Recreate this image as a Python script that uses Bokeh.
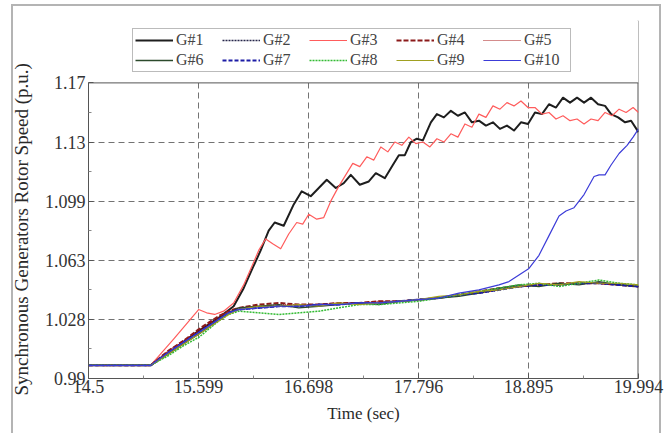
from bokeh.plotting import figure
from bokeh.models import Legend, LegendItem, FixedTicker, Range1d, BoxAnnotation, Span, Title
from bokeh.embed import file_html
from bokeh.resources import INLINE

# ---------------- data ----------------
x_ticks = [14.5, 15.599, 16.698, 17.796, 18.895, 19.994]
x_labels = ["14.5", "15.599", "16.698", "17.796", "18.895", "19.994"]
x_minor = [15.05, 16.148, 17.247, 18.346, 19.444]
y_ticks = [0.99, 1.026, 1.062, 1.098, 1.134, 1.17]
y_labels = ["0.99", "1.028", "1.063", "1.099", "1.13", "1.17"]
y_minor = [1.008, 1.044, 1.08, 1.116, 1.152]
x_left, x_right = 14.5, 19.994
y_bottom, y_top = 0.99, 1.17

names = ["G#1", "G#2", "G#3", "G#4", "G#5", "G#6", "G#7", "G#8", "G#9", "G#10"]

t1 = [14.5, 15.12, 15.35, 15.6, 15.8, 15.95, 16.05, 16.13, 16.22, 16.30, 16.36, 16.45,
      16.55, 16.63, 16.72, 16.80, 16.88, 16.97, 17.05, 17.12, 17.21, 17.30, 17.37, 17.46,
      17.54, 17.60, 17.66, 17.72, 17.78, 17.84, 17.92, 17.98, 18.05, 18.12, 18.19, 18.26,
      18.33, 18.40, 18.47, 18.54, 18.61, 18.68, 18.75, 18.82, 18.89, 18.96, 19.03, 19.10,
      19.17, 19.24, 19.31, 19.38, 19.45, 19.52, 19.59, 19.66, 19.72, 19.79, 19.86, 19.92, 19.994]
g1 = [0.998, 0.998, 1.008, 1.019, 1.027, 1.034, 1.045, 1.056, 1.068, 1.080, 1.085, 1.083,
      1.096, 1.104, 1.101, 1.106, 1.111, 1.106, 1.109, 1.114, 1.108, 1.110, 1.115, 1.112,
      1.120, 1.126, 1.126, 1.134, 1.136, 1.135, 1.146, 1.151, 1.149, 1.153, 1.150, 1.152,
      1.146, 1.147, 1.144, 1.146, 1.142, 1.144, 1.141, 1.146, 1.145, 1.152, 1.151, 1.157,
      1.155, 1.161, 1.158, 1.161, 1.158, 1.161, 1.157, 1.156, 1.151, 1.149, 1.146, 1.147, 1.140]

t3 = [14.5, 15.12, 15.35, 15.6, 15.68, 15.76, 15.85, 15.95, 16.05, 16.13, 16.20, 16.27,
      16.34, 16.42, 16.50, 16.58, 16.64, 16.70, 16.78, 16.85, 16.92, 17.00, 17.07, 17.14,
      17.21, 17.28, 17.35, 17.42, 17.49, 17.56, 17.63, 17.70, 17.77, 17.84, 17.91, 17.98,
      18.05, 18.12, 18.19, 18.26, 18.33, 18.40, 18.47, 18.54, 18.61, 18.68, 18.75, 18.82,
      18.89, 18.96, 19.03, 19.10, 19.17, 19.24, 19.31, 19.38, 19.45, 19.52, 19.59, 19.66,
      19.73, 19.80, 19.87, 19.94, 19.994]
g3 = [0.998, 0.998, 1.014, 1.032, 1.030, 1.029, 1.031, 1.036, 1.047, 1.058, 1.068, 1.075,
      1.072, 1.069, 1.078, 1.085, 1.084, 1.090, 1.087, 1.088, 1.098, 1.107, 1.114, 1.121,
      1.119, 1.125, 1.123, 1.131, 1.128, 1.134, 1.132, 1.137, 1.133, 1.134, 1.131, 1.136,
      1.134, 1.139, 1.137, 1.145, 1.143, 1.151, 1.149, 1.156, 1.154, 1.158, 1.156, 1.159,
      1.155, 1.155, 1.151, 1.152, 1.148, 1.150, 1.147, 1.148, 1.145, 1.148, 1.147, 1.152,
      1.150, 1.154, 1.152, 1.155, 1.152]

tc = [14.5, 15.12, 15.3, 15.45, 15.6, 15.7, 15.8, 15.9, 16.0, 16.2, 16.4, 16.6, 16.8, 17.0,
      17.2, 17.4, 17.6, 17.8, 18.0, 18.2, 18.4, 18.6, 18.8, 19.0, 19.2, 19.4, 19.6, 19.8, 19.994]
g2 = [0.998, 0.998, 1.006, 1.012, 1.018, 1.022, 1.026, 1.030, 1.032, 1.033, 1.034, 1.034, 1.035,
      1.035, 1.036, 1.036, 1.037, 1.038, 1.039, 1.041, 1.042, 1.044, 1.046, 1.047, 1.047, 1.048,
      1.048, 1.047, 1.046]
g4 = [0.998, 0.998, 1.007, 1.013, 1.020, 1.024, 1.028, 1.031, 1.033, 1.035, 1.036, 1.035, 1.035,
      1.036, 1.036, 1.037, 1.037, 1.038, 1.039, 1.041, 1.043, 1.045, 1.046, 1.047, 1.048, 1.048,
      1.048, 1.047, 1.046]
g5 = [0.998, 0.998, 1.007, 1.013, 1.019, 1.023, 1.027, 1.031, 1.033, 1.034, 1.035, 1.035, 1.035,
      1.036, 1.036, 1.037, 1.037, 1.038, 1.039, 1.041, 1.042, 1.044, 1.046, 1.047, 1.047, 1.048,
      1.048, 1.047, 1.046]
g6 = [0.998, 0.998, 1.005, 1.011, 1.017, 1.021, 1.026, 1.030, 1.033, 1.034, 1.035, 1.033, 1.034,
      1.035, 1.036, 1.035, 1.037, 1.038, 1.039, 1.040, 1.042, 1.045, 1.047, 1.046, 1.048, 1.047,
      1.049, 1.047, 1.046]
g7 = [0.998, 0.998, 1.006, 1.012, 1.018, 1.022, 1.026, 1.030, 1.032, 1.033, 1.034, 1.034, 1.035,
      1.035, 1.036, 1.036, 1.037, 1.038, 1.039, 1.041, 1.042, 1.044, 1.046, 1.047, 1.047, 1.048,
      1.048, 1.047, 1.046]
g8 = [0.998, 0.998, 1.004, 1.010, 1.015, 1.020, 1.025, 1.029, 1.031, 1.030, 1.029, 1.030, 1.031,
      1.033, 1.035, 1.035, 1.036, 1.037, 1.039, 1.041, 1.043, 1.045, 1.047, 1.048, 1.046, 1.048,
      1.050, 1.048, 1.047]
g9 = [0.998, 0.998, 1.005, 1.011, 1.017, 1.021, 1.025, 1.029, 1.032, 1.034, 1.034, 1.035, 1.034,
      1.036, 1.035, 1.036, 1.037, 1.038, 1.040, 1.041, 1.043, 1.044, 1.046, 1.048, 1.047, 1.049,
      1.048, 1.048, 1.047]

t10 = [14.5, 15.12, 15.3, 15.45, 15.6, 15.7, 15.8, 15.9, 16.0, 16.2, 16.4, 16.6, 16.8, 17.0,
       17.2, 17.4, 17.6, 17.8, 18.0, 18.2, 18.4, 18.5, 18.6, 18.7, 18.8, 18.9, 19.0, 19.1, 19.2,
       19.27, 19.35, 19.45, 19.55, 19.6, 19.66, 19.72, 19.8, 19.88, 19.94, 19.994]
g10 = [0.998, 0.998, 1.006, 1.012, 1.018, 1.022, 1.026, 1.030, 1.032, 1.033, 1.034, 1.034, 1.035,
       1.035, 1.036, 1.036, 1.037, 1.038, 1.039, 1.042, 1.044, 1.0455, 1.047, 1.049, 1.053, 1.057,
       1.065, 1.077, 1.089, 1.092, 1.094, 1.102, 1.113, 1.114, 1.114, 1.120, 1.127, 1.132, 1.137,
       1.142]

series = [(t1, g1), (tc, g2), (t3, g3), (tc, g4), (tc, g5),
          (tc, g6), (tc, g7), (tc, g8), (tc, g9), (t10, g10)]

# ---------------- styles ----------------
colors = ["#1e1e1e", "#26264a", "#ff5c5c", "#8b1a1a", "#a81818",
          "#2c4a2c", "#1c1ca6", "#33bb33", "#a0a020", "#3c3cd8"]
widths = [2.0, 1.5, 1.2, 2.0, 1.2, 1.3, 2.0, 1.5, 1.2, 1.2]
dashes = ["solid", "2 1", "solid", "5 2", "1 1", "solid", "4 2", "2 1", "solid", "solid"]

FONT = "Liberation Serif"
FRAME = "#b4b4b4"
AX = "#555555"

# the frame reaches up to the legend; the part above y_top is blanked out
p = figure(width=665, height=433,
           x_range=Range1d(x_left, x_right), y_range=Range1d(y_bottom, 1.208),
           output_backend="svg", toolbar_location=None,
           min_border_left=88, min_border_right=27, min_border_top=20, min_border_bottom=55,
           background_fill_color="white", border_fill_alpha=0.0)
p.outline_line_color = None

# light picture frame drawn behind the (transparent) border area
p.styles = {
    "background-color": "white",
    "background-image": ("linear-gradient(%s,%s), linear-gradient(%s,%s), linear-gradient(%s,%s)"
                         % (FRAME, FRAME, FRAME, FRAME, FRAME, FRAME)),
    "background-size": "2px 440px, 650px 2px, 2px 440px",
    "background-position": "11px 4px, 11px 4px, 659px 4px",
    "background-repeat": "no-repeat",
}

renderers = []
for (tx, gy), c, w, d in zip(series, colors, widths, dashes):
    r = p.line(tx, gy, line_color=c, line_width=w, line_dash=d, line_join="round")
    renderers.append(r)

# axes
p.xaxis.ticker = FixedTicker(ticks=x_ticks, minor_ticks=x_minor)
p.yaxis.ticker = FixedTicker(ticks=y_ticks, minor_ticks=y_minor)
p.yaxis.bounds = (y_bottom, y_top)
p.xaxis.major_label_overrides = dict(zip(x_ticks, x_labels))
p.yaxis.major_label_overrides = dict(zip(y_ticks, y_labels))
p.xaxis.axis_label = "Time (sec)"

for ax in (p.xaxis[0], p.yaxis[0]):
    ax.axis_label_text_font = FONT
    ax.axis_label_text_font_style = "normal"
    ax.axis_label_text_color = "#2a2a2a"
    ax.major_label_text_font = FONT
    ax.major_label_text_font_size = "18px"
    ax.major_label_text_color = "#333333"
    ax.major_tick_in = 5
    ax.major_tick_out = 0
    ax.minor_tick_in = 3
    ax.minor_tick_out = 0
    ax.axis_line_color = AX
    ax.major_tick_line_color = AX
    ax.minor_tick_line_color = "#888888"
p.xaxis.axis_label_text_font_size = "17px"
p.xaxis.major_label_standoff = 1
p.xaxis.axis_label_standoff = 8
p.yaxis.major_label_standoff = 3

# y axis title, anchored near the bottom of the axis like the reference
ytitle = Title(text="Synchronous Generators Rotor Speed (p.u.)", align="left", offset=-17,
               vertical_align="top", standoff=16, text_font=FONT, text_font_size="19px",
               text_font_style="normal", text_color="#2a2a2a")
p.add_layout(ytitle, "left")

p.xgrid.grid_line_color = "#444444"
p.ygrid.grid_line_color = "#444444"
p.xgrid.grid_line_dash = "6 4"
p.ygrid.grid_line_dash = "6 4"
p.xgrid.grid_line_alpha = 0.75
p.ygrid.grid_line_alpha = 0.75

# right edge of the axes box, then blank the strip above y_top, then the top edge
p.add_layout(Span(location=x_right, dimension="height", line_color=AX, line_width=2,
                  level="underlay"))
p.add_layout(BoxAnnotation(bottom=y_top, fill_color="white", fill_alpha=1.0,
                           line_alpha=0.0, level="underlay"))
p.add_layout(Span(location=y_top, dimension="width", line_color=AX, line_width=1))

# legend
items = [LegendItem(label=n, renderers=[r]) for n, r in zip(names, renderers)]
legend = Legend(items=items, location=(44, 306), orientation="horizontal", ncols=5,
                label_text_font=FONT, label_text_font_size="16px", label_text_color="#444444",
                glyph_width=38, glyph_height=16, label_height=16, label_width=44,
                label_standoff=3, spacing=2, padding=2, margin=0,
                border_line_color="#777777", border_line_width=1,
                background_fill_color="white", background_fill_alpha=1.0)
p.add_layout(legend, "center")

open("out.html", "w").write(file_html(p, INLINE))
